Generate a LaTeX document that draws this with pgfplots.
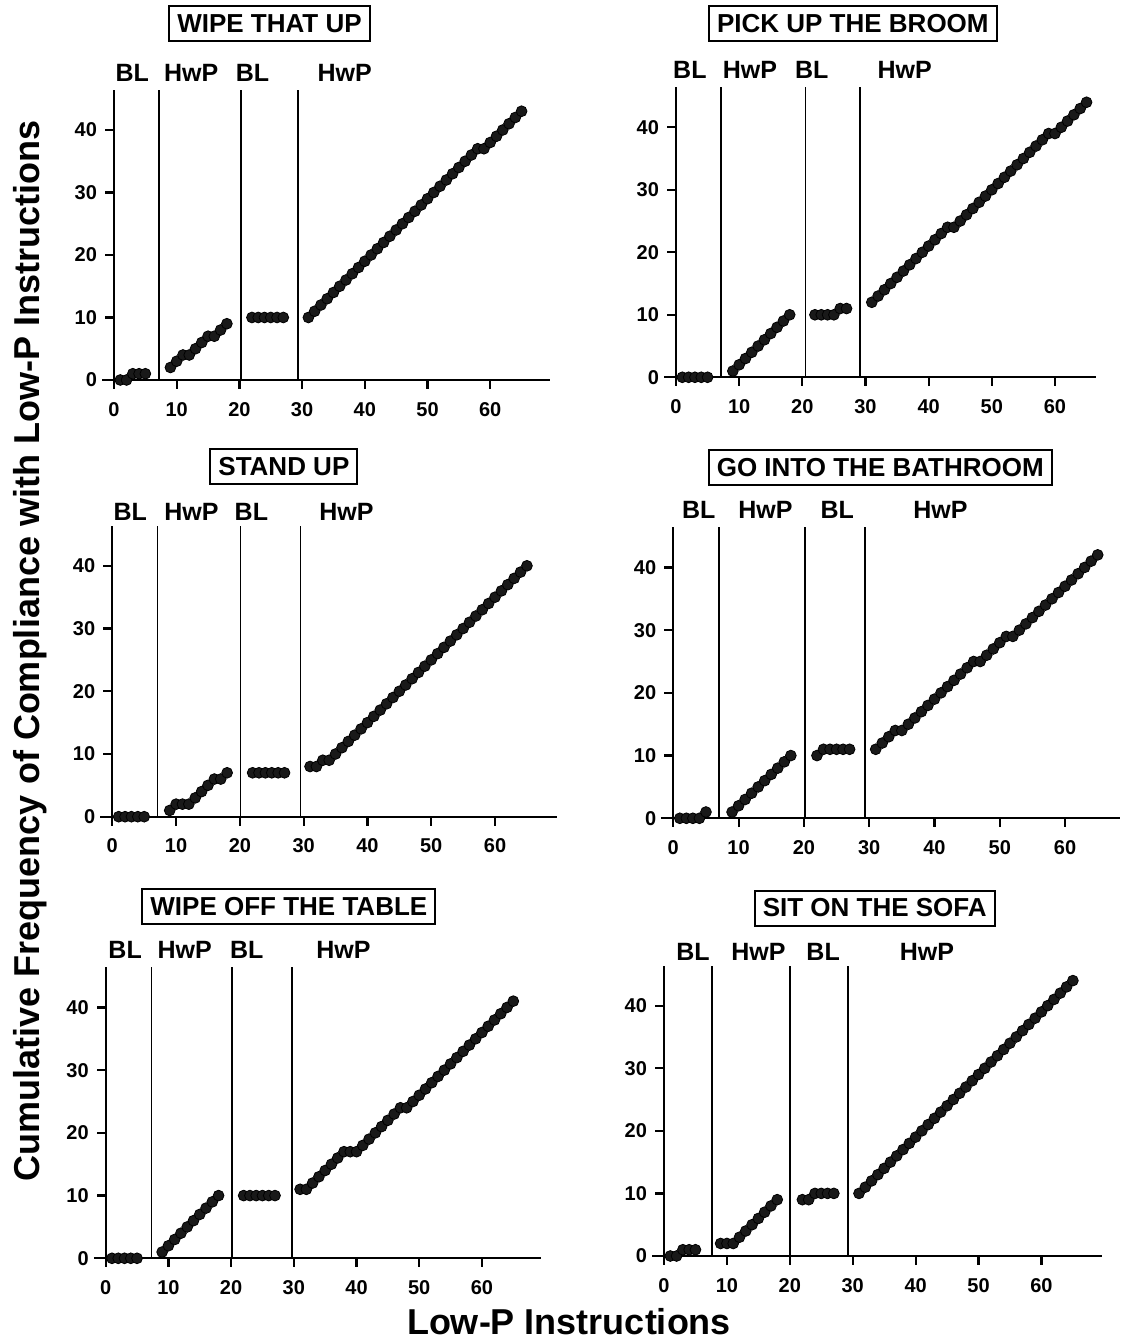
\documentclass[border=0pt]{standalone}
\usepackage{fontspec}
\setmainfont{Liberation Sans}
\usepackage{pgfplots}
\pgfplotsset{compat=1.18}
\pgfplotsset{
  panel/.style={
    scale only axis, anchor=south west, clip=false,
    axis x line*=bottom, axis y line*=left,
    axis line style={-, line width=1.1pt},
    xmin=0, ymin=0, ymax=46.4,
    xtick={0,10,...,60}, ytick={0,10,...,40},
    xtick pos=bottom, ytick pos=left,
    tick align=outside, major tick length=4.5pt,
    ticklabel style={font=\fontsize{10}{10}\selectfont\bfseries},
    xticklabel style={yshift=-3pt},
    yticklabel style={xshift=-0.5pt},
    /pgf/number format/assume math mode=true,
  },
  dots/.style={only marks, mark=*, mark size=2.7pt, black, mark options={fill=black!90}},
  phase/.style={black, line width=0.9pt, no marks},
}
\newcommand{\phl}{\fontsize{12.5}{12.5}\selectfont\bfseries}
\newcommand{\ttl}{\fontsize{13}{13}\selectfont\bfseries}
\newcommand{\stub}{%
  \draw[line width=1.1pt] (axis cs:-1.9,0) -- (axis cs:0,0);%
  \pgfplotsinvokeforeach{0,10,20,30,40,50,60}{\draw[line width=1.1pt] (axis cs:##1,0) -- ++(0pt,-4.5pt);}%
  \pgfplotsinvokeforeach{0,10,20,30,40}{\draw[line width=1.1pt] (axis cs:0,##1) -- ++(-4.5pt,0pt);}%
}
\tikzset{ttlbox/.style={draw, line width=1pt, inner xsep=4pt, minimum height=17.5pt, font=\ttl}}
\begin{document}
\begin{tikzpicture}
\useasboundingbox (0,0) rectangle (561pt,671pt);
% ---------- Panel 1 ----------
\begin{axis}[panel, at={(57pt,481pt)}, width=217.9pt, height=145pt, xmax=69.5]
\stub
\addplot[phase] coordinates {(7.2,0) (7.2,46.4)};
\addplot[phase] coordinates {(20.3,0) (20.3,46.4)};
\addplot[phase] coordinates {(29.3,0) (29.3,46.4)};
\addplot[dots] coordinates {(1,0)(2,0)(3,1)(4,1)(5,1)
(9,2)(10,3)(11,4)(12,4)(13,5)(14,6)(15,7)(16,7)(17,8)(18,9)
(22,10)(23,10)(24,10)(25,10)(26,10)(27,10)
(31,10)(32,11)(33,12)(34,13)(35,14)(36,15)(37,16)(38,17)(39,18)(40,19)(41,20)(42,21)(43,22)(44,23)(45,24)(46,25)(47,26)(48,27)(49,28)(50,29)(51,30)(52,31)(53,32)(54,33)(55,34)(56,35)(57,36)(58,37)(59,37)(60,38)(61,39)(62,40)(63,41)(64,42)(65,43)};
\node[font=\phl] at (axis cs:2.9,49.1) {BL};
\node[font=\phl] at (axis cs:12.3,49.1) {HwP};
\node[font=\phl] at (axis cs:22.1,49.1) {BL};
\node[font=\phl] at (axis cs:36.8,49.1) {HwP};
\node[ttlbox] at (axis cs:24.8,57) {WIPE THAT UP};
\end{axis}
% ---------- Panel 2 ----------
\begin{axis}[panel, at={(338pt,482.35pt)}, width=210pt, height=145pt, xmax=66.5]
\stub
\addplot[phase] coordinates {(7.1,0) (7.1,46.4)};
\addplot[phase] coordinates {(20.5,0) (20.5,46.4)};
\addplot[phase] coordinates {(29.1,0) (29.1,46.4)};
\addplot[dots] coordinates {(1,0)(2,0)(3,0)(4,0)(5,0)
(9,1)(10,2)(11,3)(12,4)(13,5)(14,6)(15,7)(16,8)(17,9)(18,10)
(22,10)(23,10)(24,10)(25,10)(26,11)(27,11)
(31,12)(32,13)(33,14)(34,15)(35,16)(36,17)(37,18)(38,19)(39,20)(40,21)(41,22)(42,23)(43,24)(44,24)(45,25)(46,26)(47,27)(48,28)(49,29)(50,30)(51,31)(52,32)(53,33)(54,34)(55,35)(56,36)(57,37)(58,38)(59,39)(60,39)(61,40)(62,41)(63,42)(64,43)(65,44)};
\node[font=\phl] at (axis cs:2.2,49.2) {BL};
\node[font=\phl] at (axis cs:11.7,49.2) {HwP};
\node[font=\phl] at (axis cs:21.5,49.2) {BL};
\node[font=\phl] at (axis cs:36.2,49.2) {HwP};
\node[ttlbox] at (axis cs:28.0,56.6) {PICK UP THE BROOM};
\end{axis}
% ---------- Panel 3 ----------
\begin{axis}[panel, at={(56.15pt,262.65pt)}, width=222.3pt, height=145.5pt, xmax=69.7]
\stub
\addplot[phase] coordinates {(7.1,0) (7.1,46.4)};
\addplot[phase] coordinates {(20.1,0) (20.1,46.4)};
\addplot[phase] coordinates {(29.5,0) (29.5,46.4)};
\addplot[dots] coordinates {(1,0)(2,0)(3,0)(4,0)(5,0)
(9,1)(10,2)(11,2)(12,2)(13,3)(14,4)(15,5)(16,6)(17,6)(18,7)
(22,7)(23,7)(24,7)(25,7)(26,7)(27,7)
(31,8)(32,8)(33,9)(34,9)(35,10)(36,11)(37,12)(38,13)(39,14)(40,15)(41,16)(42,17)(43,18)(44,19)(45,20)(46,21)(47,22)(48,23)(49,24)(50,25)(51,26)(52,27)(53,28)(54,29)(55,30)(56,31)(57,32)(58,33)(59,34)(60,35)(61,36)(62,37)(63,38)(64,39)(65,40)};
\node[font=\phl] at (axis cs:2.8,48.6) {BL};
\node[font=\phl] at (axis cs:12.4,48.6) {HwP};
\node[font=\phl] at (axis cs:21.8,48.6) {BL};
\node[font=\phl] at (axis cs:36.7,48.6) {HwP};
\node[ttlbox] at (axis cs:26.9,55.8) {STAND UP};
\end{axis}
% ---------- Panel 4 ----------
\begin{axis}[panel, at={(336.65pt,261.85pt)}, width=223.3pt, height=145.5pt, xmax=68.4]
\stub
\addplot[phase] coordinates {(7.05,0) (7.05,46.4)};
\addplot[phase] coordinates {(20.2,0) (20.2,46.4)};
\addplot[phase] coordinates {(29.4,0) (29.4,46.4)};
\addplot[dots] coordinates {(1,0)(2,0)(3,0)(4,0)(5,1)
(9,1)(10,2)(11,3)(12,4)(13,5)(14,6)(15,7)(16,8)(17,9)(18,10)
(22,10)(23,11)(24,11)(25,11)(26,11)(27,11)
(31,11)(32,12)(33,13)(34,14)(35,14)(36,15)(37,16)(38,17)(39,18)(40,19)(41,20)(42,21)(43,22)(44,23)(45,24)(46,25)(47,25)(48,26)(49,27)(50,28)(51,29)(52,29)(53,30)(54,31)(55,32)(56,33)(57,34)(58,35)(59,36)(60,37)(61,38)(62,39)(63,40)(64,41)(65,42)};
\node[font=\phl] at (axis cs:3.9,49.2) {BL};
\node[font=\phl] at (axis cs:14.1,49.2) {HwP};
\node[font=\phl] at (axis cs:25.1,49.2) {BL};
\node[font=\phl] at (axis cs:40.9,49.2) {HwP};
\node[ttlbox] at (axis cs:31.7,56) {GO INTO THE BATHROOM};
\end{axis}
% ---------- Panel 5 ----------
\begin{axis}[panel, at={(52.85pt,41.85pt)}, width=217.6pt, height=145.5pt, xmax=69.4]
\stub
\addplot[phase] coordinates {(7.3,0) (7.3,46.4)};
\addplot[phase] coordinates {(20.1,0) (20.1,46.4)};
\addplot[phase] coordinates {(29.7,0) (29.7,46.4)};
\addplot[dots] coordinates {(1,0)(2,0)(3,0)(4,0)(5,0)
(9,1)(10,2)(11,3)(12,4)(13,5)(14,6)(15,7)(16,8)(17,9)(18,10)
(22,10)(23,10)(24,10)(25,10)(26,10)(27,10)
(31,11)(32,11)(33,12)(34,13)(35,14)(36,15)(37,16)(38,17)(39,17)(40,17)(41,18)(42,19)(43,20)(44,21)(45,22)(46,23)(47,24)(48,24)(49,25)(50,26)(51,27)(52,28)(53,29)(54,30)(55,31)(56,32)(57,33)(58,34)(59,35)(60,36)(61,37)(62,38)(63,39)(64,40)(65,41)};
\node[font=\phl] at (axis cs:3.1,49.2) {BL};
\node[font=\phl] at (axis cs:12.6,49.2) {HwP};
\node[font=\phl] at (axis cs:22.5,49.2) {BL};
\node[font=\phl] at (axis cs:37.9,49.2) {HwP};
\node[ttlbox] at (axis cs:29.2,56.1) {WIPE OFF THE TABLE};
\end{axis}
% ---------- Panel 6 ----------
\begin{axis}[panel, at={(332pt,43pt)}, width=218.9pt, height=145.2pt, xmax=69.6]
\stub
\addplot[phase] coordinates {(7.6,0) (7.6,46.4)};
\addplot[phase] coordinates {(20.0,0) (20.0,46.4)};
\addplot[phase] coordinates {(29.3,0) (29.3,46.4)};
\addplot[dots] coordinates {(1,0)(2,0)(3,1)(4,1)(5,1)
(9,2)(10,2)(11,2)(12,3)(13,4)(14,5)(15,6)(16,7)(17,8)(18,9)
(22,9)(23,9)(24,10)(25,10)(26,10)(27,10)
(31,10)(32,11)(33,12)(34,13)(35,14)(36,15)(37,16)(38,17)(39,18)(40,19)(41,20)(42,21)(43,22)(44,23)(45,24)(46,25)(47,26)(48,27)(49,28)(50,29)(51,30)(52,31)(53,32)(54,33)(55,34)(56,35)(57,36)(58,37)(59,38)(60,39)(61,40)(62,41)(63,42)(64,43)(65,44)};
\node[font=\phl] at (axis cs:4.6,48.6) {BL};
\node[font=\phl] at (axis cs:15.0,48.6) {HwP};
\node[font=\phl] at (axis cs:25.3,48.6) {BL};
\node[font=\phl] at (axis cs:41.8,48.6) {HwP};
\node[ttlbox] at (axis cs:33.5,55.6) {SIT ON THE SOFA};
\end{axis}
% ---------- shared labels ----------
\node[rotate=90, font=\fontsize{18}{18}\selectfont\bfseries] at (15pt,345.5pt) {Cumulative Frequency of Compliance with Low-P Instructions};
\node[anchor=base, font=\fontsize{18}{18}\selectfont\bfseries] at (284.5pt,4pt) {Low-P Instructions};
\end{tikzpicture}
\end{document}
